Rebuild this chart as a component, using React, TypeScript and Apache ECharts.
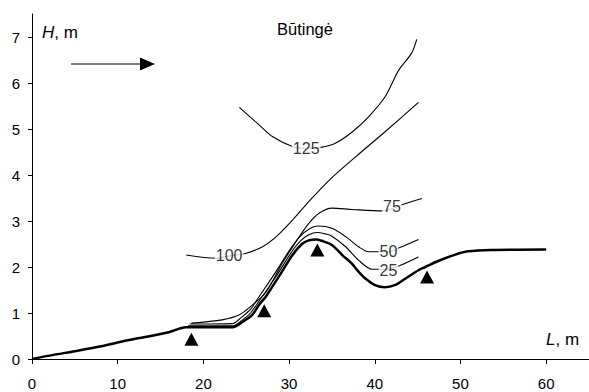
import React, { useEffect, useRef } from "react";
import * as echarts from "echarts";

const FONT = "'Liberation Sans', Arial, sans-serif";

const xTicks = [0, 10, 20, 30, 40, 50, 60];
const yTicks = [0, 1, 2, 3, 4, 5, 6, 7];

const bed: number[][] = [
  [0, 0], [2.5, 0.09], [5, 0.17], [7.9, 0.27], [10, 0.36], [11.8, 0.43], [15.7, 0.57], [17.2, 0.66],
  [18, 0.69], [20, 0.69], [23.4, 0.69], [24.6, 0.81], [25.7, 0.96], [26.5, 1.18], [27.3, 1.36],
  [28.8, 1.79], [30.4, 2.26], [31.5, 2.5], [32.3, 2.58], [33.2, 2.6], [33.8, 2.57], [35.0, 2.48],
  [36.2, 2.26], [37.3, 2.08], [38.1, 1.9], [38.9, 1.75], [40.1, 1.6], [41.2, 1.56], [42.4, 1.61],
  [43.6, 1.75], [45.1, 1.93], [45.9, 2.0], [47.4, 2.13], [49.4, 2.27], [50.9, 2.34], [53.6, 2.37], [60, 2.38],
];

const c25: number[][] = [
  [18.2, 0.72], [20, 0.72], [23.4, 0.72], [24.5, 0.84], [25.5, 1.0], [26.5, 1.26], [28.5, 1.8],
  [30.2, 2.3], [31.3, 2.56], [32.3, 2.7], [33.3, 2.75], [34.2, 2.72], [35.0, 2.67], [36.6, 2.44],
  [38.1, 2.15], [39.7, 1.95], [41.6, 1.95], [43.0, 2.04], [45.1, 2.22],
];

const c50: number[][] = [
  [18.4, 0.76], [23.4, 0.77], [24.4, 0.9], [25.5, 1.08], [26.3, 1.3], [28.3, 1.85], [30.0, 2.35],
  [31.2, 2.65], [32.3, 2.82], [33.4, 2.89], [35.0, 2.84], [36.6, 2.66], [38.1, 2.44], [39.3, 2.33],
  [41.6, 2.33], [43.0, 2.43], [45.1, 2.6],
];

const c75: number[][] = [
  [18.6, 0.78], [22.2, 0.85], [24.2, 0.96], [25.7, 1.17], [27.3, 1.45], [29.2, 2.08], [31.2, 2.66],
  [32.3, 2.95], [33.5, 3.17], [35.0, 3.28], [37.4, 3.25], [40.9, 3.22], [43.6, 3.38], [45.5, 3.49],
];

const c100: number[][] = [
  [18.0, 2.26], [21.5, 2.19], [23.0, 2.24], [25.0, 2.3], [26.9, 2.44], [28.5, 2.66], [30.4, 3.02],
  [32.3, 3.42], [34.7, 3.89], [37.8, 4.4], [41.2, 4.94], [45.1, 5.58],
];

const c125: number[][] = [
  [24.2, 5.47], [26.5, 5.09], [28.1, 4.83], [30.4, 4.62], [32.0, 4.58], [33.7, 4.6], [35.4, 4.69],
  [37.4, 4.94], [39.3, 5.27], [41.2, 5.7], [42.8, 6.28], [44.3, 6.65], [44.9, 6.95],
];

const contourLabels: (number | string)[][] = [
  [41.6, 1.93, "25"],
  [41.6, 2.33, "50"],
  [42.0, 3.31, "75"],
  [23.0, 2.24, "100"],
  [32.0, 4.58, "125"],
];

const markers: number[][] = [
  [18.6, 0.43], [27.1, 1.05], [33.3, 2.37], [46.1, 1.78],
];

export default function App() {
  const ref = useRef<HTMLDivElement>(null);
  useEffect(() => {
    if (!ref.current) return;
    const chart = echarts.init(ref.current, null, { renderer: "svg" });
    const thin = (data: number[][]) => ({
      type: "line",
      data,
      symbol: "none",
      smooth: 0.3,
      lineStyle: { color: "#000", width: 1.1 },
      z: 2,
    });
    chart.setOption({
      animation: false,
      grid: { left: 32, top: 14, width: 559, height: 345 },
      xAxis: {
        type: "value",
        min: 0,
        max: 65,
        interval: 10,
        splitLine: { show: false },
        axisLine: { lineStyle: { color: "#000", width: 1 } },
        axisTick: { length: 5, lineStyle: { color: "#000" }, customValues: xTicks },
        axisLabel: { customValues: xTicks, color: "#000", fontSize: 15, fontFamily: FONT, margin: 17 },
      },
      yAxis: {
        type: "value",
        min: 0,
        max: 7.5,
        interval: 1,
        splitLine: { show: false },
        axisLine: { lineStyle: { color: "#000", width: 1 } },
        axisTick: { length: 4, lineStyle: { color: "#000" }, customValues: yTicks },
        axisLabel: { customValues: yTicks, color: "#000", fontSize: 15, fontFamily: FONT, margin: 12 },
      },
      series: [
        thin(c125),
        thin(c100),
        thin(c75),
        thin(c50),
        thin(c25),
        {
          type: "line",
          data: bed,
          symbol: "none",
          smooth: 0.3,
          lineStyle: { color: "#000", width: 2.5 },
          z: 3,
        },
        {
          type: "scatter",
          data: markers,
          symbol: "triangle",
          symbolSize: [14, 13],
          itemStyle: { color: "#000", opacity: 1 },
          z: 4,
        },
        {
          type: "scatter",
          data: contourLabels,
          symbolSize: 1,
          itemStyle: { color: "rgba(0,0,0,0)" },
          z: 10,
          label: {
            show: true,
            position: "inside",
            formatter: (p: any) => String(p.value[2]),
            color: "#000",
            fontSize: 16,
            fontFamily: FONT,
            backgroundColor: "#fff",
            padding: [0, 1],
          },
        },
      ],
      graphic: [
        {
          type: "text",
          left: 277,
          top: 20,
          style: { text: "Būtingė", fontSize: 16.5, fontFamily: FONT, fill: "#000" },
        },
        {
          type: "text",
          left: 42,
          top: 24,
          style: {
            text: "{i|H}, m",
            fontSize: 17,
            fontFamily: FONT,
            fill: "#000",
            rich: { i: { fontStyle: "italic", fontSize: 17, fontFamily: FONT } },
          },
        },
        {
          type: "text",
          left: 546,
          top: 331,
          style: {
            text: "{i|L}, m",
            fontSize: 17,
            fontFamily: FONT,
            fill: "#000",
            rich: { i: { fontStyle: "italic", fontSize: 17, fontFamily: FONT } },
          },
        },
        {
          type: "line",
          shape: { x1: 71, y1: 64, x2: 142, y2: 64 },
          style: { stroke: "#000", lineWidth: 1 },
        },
        {
          type: "polygon",
          shape: { points: [[140, 57.5], [155, 64], [140, 70.5]] },
          style: { fill: "#000" },
        },
      ],
    });
    return () => chart.dispose();
  }, []);
  return (
    <div
      ref={ref}
      style={{ position: "fixed", left: 0, top: 0, width: 589, height: 392, background: "#fff" }}
    />
  );
}
